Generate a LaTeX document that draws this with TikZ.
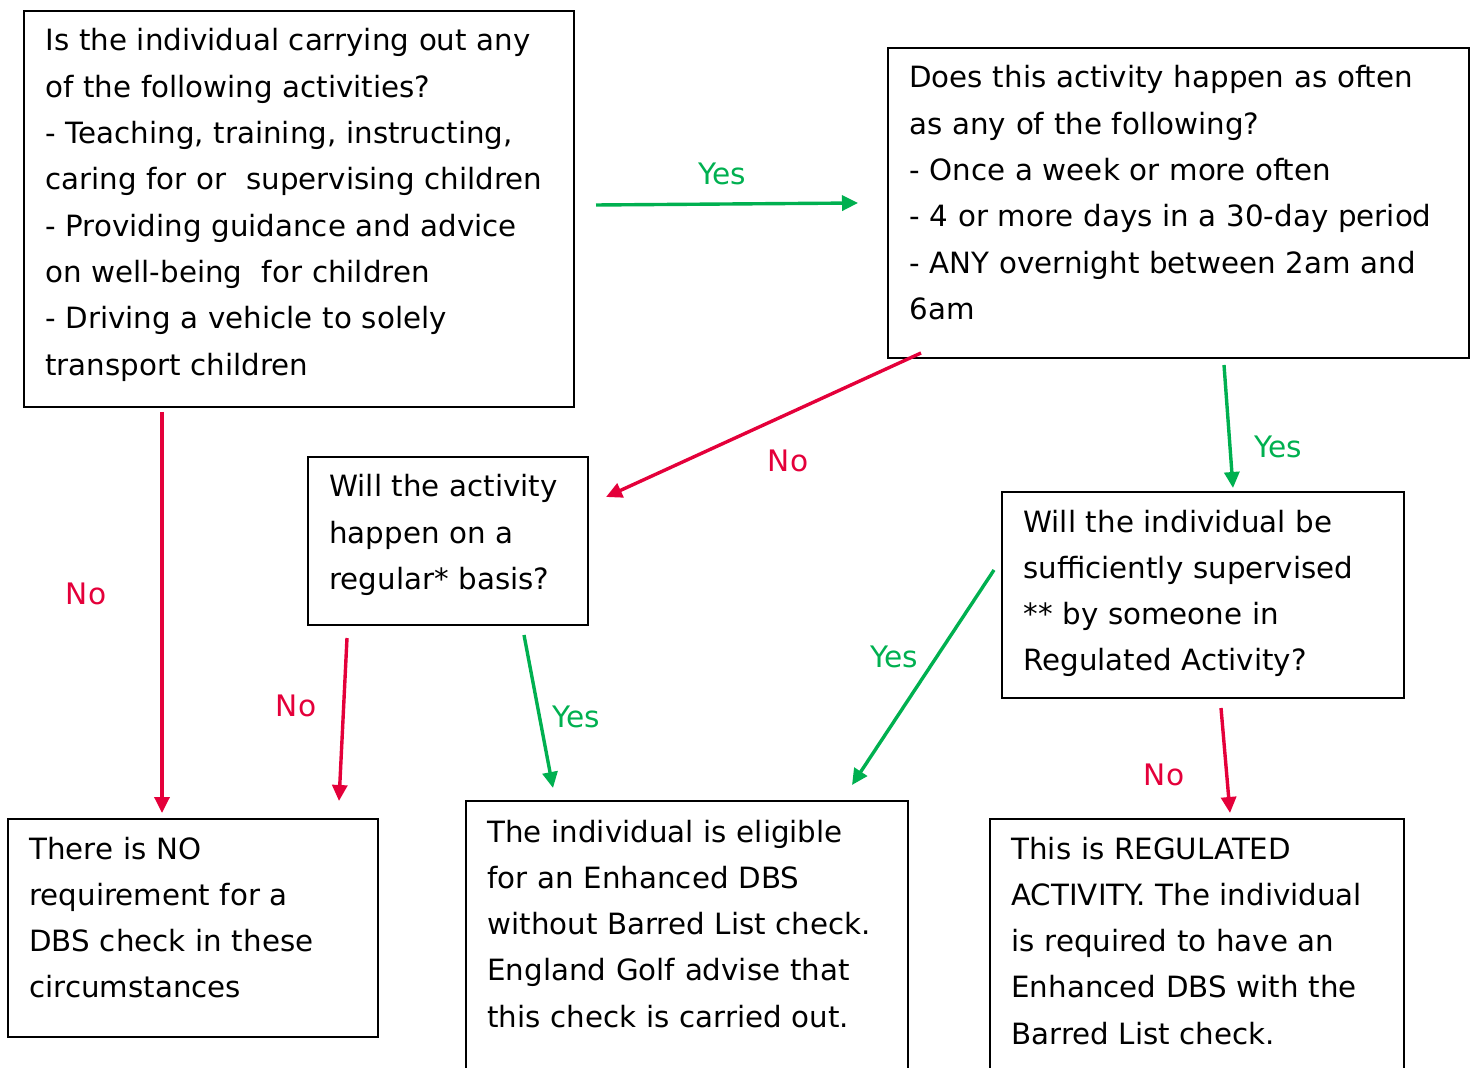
\documentclass[tikz,border=0pt]{standalone}
\usepackage{fontspec}
\setmainfont{DejaVu Sans}
\usetikzlibrary{arrows.meta,fit}
\definecolor{ygreen}{RGB}{0,176,80}
\definecolor{nred}{RGB}{228,0,58}
\begin{document}
\begin{tikzpicture}[x=0.5pt,y=-0.5pt,
  box/.style={draw=black,line width=1pt,inner sep=0pt},
  txt/.style={anchor=base west,inner sep=0pt,text width=300pt,align=left,
    font=\fontsize{14.65}{23.15}\selectfont},
  lbl/.style={inner sep=0pt,font=\fontsize{14.8}{18}\selectfont},
  yes/.style={draw=ygreen,line width=1.7pt,-{Triangle[length=8pt,width=7.5pt]}},
  no/.style={draw=nred,line width=1.7pt,-{Triangle[length=8pt,width=7.5pt]}}]
\useasboundingbox (0,0) rectangle (1470,1068);
% boxes
\node[box,fit={(24,11)(574,407)}] (A) {};
\node[box,fit={(888,48)(1469,358)}] (B) {};
\node[box,fit={(308,457)(588,625)}] (C) {};
\node[box,fit={(1002,492)(1404,698)}] (D) {};
\node[box,fit={(8,819)(378,1037)}] (E) {};
\node[box,fit={(466,801)(908,1090)}] (F) {};
\node[box,fit={(990,819)(1404,1090)}] (G) {};
% texts
\node[txt] (tA) at (45,51) {Is the individual carrying out any\\ of the following activities?\\ - Teaching, training, instructing,\\ caring for or\ \ supervising children\\ - Providing guidance and advice\\ on well-being\ \ for children\\ - Driving a vehicle to solely\\ transport children};
\node[txt] (tB) at (909,88) {Does this activity happen as often\\ as any of the following?\\ - Once a week or more often\\ - 4 or more days in a 30-day period\\ - ANY overnight between 2am and\\ 6am};
\node[txt] (tC) at (329,497) {Will the activity\\ happen on a\\ regular* basis?};
\node[txt] (tD) at (1023,532) {Will the individual be\\ sufficiently supervised\\ {}** by someone in\\ Regulated Activity?};
\node[txt] (tE) at (29,859) {There is NO\\ requirement for a\\ DBS check in these\\ circumstances};
\node[txt] (tF) at (487,842) {The individual is eligible\\ for an Enhanced DBS\\ without Barred List check.\\ England Golf advise that\\ this check is carried out.};
\node[txt] (tG) at (1011,859) {This is REGULATED\\ ACTIVITY. The individual\\ is required to have an\\ Enhanced DBS with the\\ Barred List check.};
% connector end points
\coordinate (ab1) at (596,205); \coordinate (ab2) at (858,203);
\coordinate (bc1) at (921,353); \coordinate (bc2) at (606,497);
\coordinate (bd1) at (1224,365); \coordinate (bd2) at (1233,488);
\coordinate (ae1) at (162,412); \coordinate (ae2) at (162,813);
\coordinate (ce1) at (347,638); \coordinate (ce2) at (339,801);
\coordinate (cf1) at (524,635); \coordinate (cf2) at (553,788);
\coordinate (df1) at (994,570); \coordinate (df2) at (852,785);
\coordinate (dg1) at (1221,708); \coordinate (dg2) at (1230,813);
% connectors
\draw[yes] (ab1) -- (ab2);
\draw[no] (bc1) -- (bc2);
\draw[yes] (bd1) -- (bd2);
\draw[no] (ae1) -- (ae2);
\draw[no] (ce1) -- (ce2);
\draw[yes] (cf1) -- (cf2);
\draw[yes] (df1) -- (df2);
\draw[no] (dg1) -- (dg2);
% labels
\node[lbl,text=ygreen] (lab) at (722,174) {Yes};
\node[lbl,text=nred] (lbc) at (788,461) {No};
\node[lbl,text=ygreen] (lbd) at (1278,447) {Yes};
\node[lbl,text=nred] (lae) at (86,594) {No};
\node[lbl,text=nred] (lce) at (296,706) {No};
\node[lbl,text=ygreen] (lcf) at (576,717) {Yes};
\node[lbl,text=ygreen] (ldf) at (894,657) {Yes};
\node[lbl,text=nred] (ldg) at (1164,775) {No};
\end{tikzpicture}
\end{document}
